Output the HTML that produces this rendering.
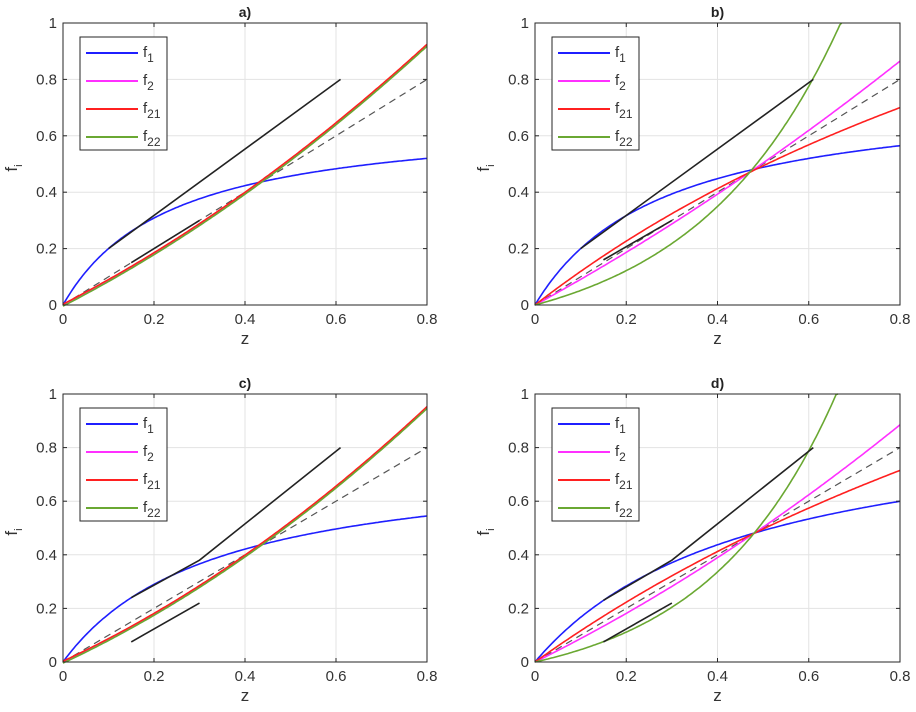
<!DOCTYPE html>
<html><head><meta charset="utf-8"><style>
body{margin:0;background:#fff}
svg{display:block;font-family:"Liberation Sans",Arial,sans-serif}
</style></head><body>
<svg id="s" width="916" height="712" viewBox="0 0 916 712" xmlns="http://www.w3.org/2000/svg"></svg>
<script>
const S=document.getElementById('s');let h='';
const panels=[
{x0:63,x1:427,y0:305,y1:23,t:'a)',
 f1:z=>0.674*z/(0.237+z),
 f2:z=>z*(1+0.4*(z-0.42)),f21:z=>z*(1+0.4*(z-0.42))+0.003,f22:z=>z*(1+0.4*(z-0.42))-0.004,
 bl:[[0.1,0.2],[0.61,0.8]],bs:[[0.15,0.15],[0.3,0.3]]},
{x0:535,x1:900,y0:305,y1:23,t:'b)',
 f1:z=>0.764*z/(0.282+z),
 f2:z=>z*(1+0.246*(z-0.47)),f21:z=>2.31*z/(1.84+z),f22:z=>0.14*(Math.exp(3.13*z)-1),
 bl:[[0.1,0.2],[0.61,0.8]],bs:[[0.15,0.16],[0.3,0.3]]},
{x0:63,x1:427,y0:662,y1:394,t:'c)',
 f1:z=>0.771*z/(0.332+z),
 f2:z=>z*(1+0.493*(z-0.42)),f21:z=>z*(1+0.493*(z-0.42))+0.003,f22:z=>z*(1+0.493*(z-0.42))-0.004,
 bl:[[0.15,0.24],[0.3,0.38],[0.61,0.8]],bs:[[0.15,0.075],[0.3,0.22]]},
{x0:535,x1:900,y0:662,y1:394,t:'d)',
 f1:z=>0.954*z/(0.4725+z),
 f2:z=>z*(1+0.332*(z-0.48)),f21:z=>2.69*z/(2.21+z),f22:z=>0.11*(Math.exp(3.5*z)-1),
 bl:[[0.15,0.23],[0.3,0.38],[0.61,0.8]],bs:[[0.15,0.075],[0.3,0.22]]}
];
for(const p of panels){
 const X=z=>p.x0+(p.x1-p.x0)*z/0.8, Y=v=>p.y0+(p.y1-p.y0)*v;
 h+=`<rect x="${p.x0}" y="${p.y1}" width="${p.x1-p.x0}" height="${p.y0-p.y1}" fill="#fff"/>`;
 for(let i=1;i<4;i++)h+=`<line x1="${X(i*0.2)}" x2="${X(i*0.2)}" y1="${p.y1}" y2="${p.y0}" stroke="#e3e3e3"/>`;
 for(let i=1;i<5;i++)h+=`<line x1="${p.x0}" x2="${p.x1}" y1="${Y(i*0.2)}" y2="${Y(i*0.2)}" stroke="#e3e3e3"/>`;
 const curve=(f,c,zmax=0.8)=>{let d='';for(let z=0;z<=zmax+1e-9;z+=0.004){let v=f(z);if(v>1){d+=`L${X(z).toFixed(1)},${Y(1).toFixed(1)}`;break;}d+=(d?'L':'M')+X(z).toFixed(1)+','+Y(v).toFixed(1);}return `<path d="${d}" fill="none" stroke="${c}" stroke-width="1.6"/>`;};
 h+=`<line x1="${X(0)}" y1="${Y(0)}" x2="${X(0.8)}" y2="${Y(0.8)}" stroke="#555" stroke-width="1.2" stroke-dasharray="7,5"/>`;
 h+=curve(p.f1,'#1f1fff');h+=curve(p.f2,'#ff30ff');h+=curve(p.f21,'#ff2020');h+=curve(p.f22,'#6aa832');
 const pl=a=>`<polyline points="${a.map(q=>X(q[0])+','+Y(q[1])).join(' ')}" fill="none" stroke="#222" stroke-width="1.6"/>`;
 h+=pl(p.bl)+pl(p.bs);
 h+=`<rect x="${p.x0}" y="${p.y1}" width="${p.x1-p.x0}" height="${p.y0-p.y1}" fill="none" stroke="#262626" stroke-width="1"/>`;
 for(let i=0;i<5;i++){const x=X(i*0.2);h+=`<line x1="${x}" x2="${x}" y1="${p.y0}" y2="${p.y0-4}" stroke="#262626"/><line x1="${x}" x2="${x}" y1="${p.y1}" y2="${p.y1+4}" stroke="#262626"/>`;
  h+=`<text x="${x}" y="${p.y0+19}" font-size="15" fill="#333" text-anchor="middle">${i?(i*0.2).toFixed(1):'0'}</text>`;}
 for(let i=0;i<6;i++){const y=Y(i*0.2);h+=`<line x1="${p.x0}" x2="${p.x0+4}" y1="${y}" y2="${y}" stroke="#262626"/><line x1="${p.x1}" x2="${p.x1-4}" y1="${y}" y2="${y}" stroke="#262626"/>`;
  h+=`<text x="${p.x0-6}" y="${y+5}" font-size="15" fill="#333" text-anchor="end">${i==0?'0':i==5?'1':(i*0.2).toFixed(1)}</text>`;}
 h+=`<text x="${(p.x0+p.x1)/2}" y="${p.y0+39}" font-size="17" fill="#333" text-anchor="middle">z</text>`;
 h+=`<text x="${p.x0-46}" y="${(p.y0+p.y1)/2+4}" font-size="17" fill="#333" transform="rotate(-90 ${p.x0-46} ${(p.y0+p.y1)/2+4})" text-anchor="middle">f<tspan font-size="11" dy="5">i</tspan></text>`;
 h+=`<text x="${(p.x0+p.x1)/2}" y="${p.y1-6}" font-size="14" font-weight="bold" fill="#222" text-anchor="middle">${p.t}</text>`;
 const lx=p.x0+17,ly=p.y1+14;
 h+=`<rect x="${lx}" y="${ly}" width="87" height="113" fill="#fff" stroke="#262626"/>`;
 const L=[['1','#1f1fff'],['2','#ff30ff'],['21','#ff2020'],['22','#6aa832']];
 L.forEach((l,i)=>{const y=ly+16+i*28;h+=`<line x1="${lx+6}" x2="${lx+58}" y1="${y}" y2="${y}" stroke="${l[1]}" stroke-width="2"/>`;
  h+=`<text x="${lx+63}" y="${y+4}" font-size="15" fill="#333">f<tspan font-size="12" dy="5">${l[0]}</tspan></text>`;});
}
S.innerHTML=h;
</script>
</body></html>
